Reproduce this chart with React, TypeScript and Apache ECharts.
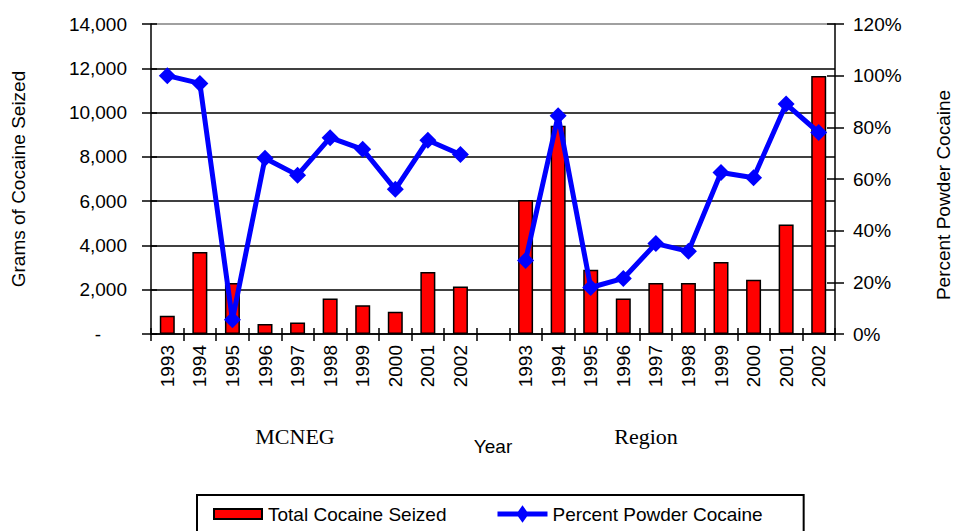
import React, { useEffect, useRef } from "react";
import * as echarts from "echarts";

const categories = [
  "1993", "1994", "1995", "1996", "1997", "1998", "1999", "2000", "2001", "2002",
  "",
  "1993", "1994", "1995", "1996", "1997", "1998", "1999", "2000", "2001", "2002",
];

const totalSeized = [
  820, 3700, 2300, 450, 520, 1600, 1300, 1000, 2800, 2150,
  null,
  6050, 9400, 2900, 1600, 2300, 2300, 3250, 2450, 4950, 11650,
];

const percentPowder = [
  100, 97, 5.5, 68, 61.5, 76, 71.5, 56, 75, 69.5,
  null,
  28.5, 84.5, 18, 21.5, 35, 32, 62.5, 60.5, 89, 78,
];

const leftTicks = { min: 0, max: 14000, interval: 2000 };
const rightTicks = { min: 0, max: 120, interval: 20 };

const groupLabels = [
  { text: "MCNEG", x: 295 },
  { text: "Region", x: 646 },
];

const SANS = "Arial, 'Liberation Sans', sans-serif";
const SERIF = "'Times New Roman', 'Liberation Serif', serif";

const BAR_ICON = "path://M0 0 M50 18 M1 4 L49 4 L49 14 L1 14 Z";
const LINE_ICON =
  "path://M0 0 M52 18 M0 6.5 L52 6.5 L52 11.5 L0 11.5 Z M26 0 L32.5 9 L26 18 L19.5 9 Z";

export default function App() {
  const ref = useRef<HTMLDivElement>(null);

  useEffect(() => {
    if (!ref.current) return;
    const chart = echarts.init(ref.current, null, { renderer: "svg" });

    const splitCount = leftTicks.max / leftTicks.interval + 1;
    const lineColors: string[] = [];
    for (let i = 0; i < splitCount; i++) lineColors.push(i === splitCount - 1 ? "#808080" : "#000000");

    chart.setOption({
      animation: false,
      backgroundColor: "#ffffff",
      textStyle: { fontFamily: SANS },
      grid: {
        left: 151,
        right: 118,
        top: 24,
        bottom: 197,
        containLabel: false,
        outerBoundsMode: "none",
      },
      legend: {
        left: 197,
        top: 495,
        orient: "horizontal",
        itemWidth: 50,
        itemHeight: 18,
        itemGap: 51,
        padding: [9, 41, 20, 15],
        borderColor: "#000000",
        borderWidth: 2,
        textStyle: { fontFamily: SANS, fontSize: 19, color: "#000000" },
        data: [
          { name: "Total Cocaine Seized", icon: BAR_ICON },
          { name: "Percent Powder Cocaine", icon: LINE_ICON },
        ],
      },
      xAxis: [
        {
          type: "category",
          data: categories,
          position: "bottom",
          boundaryGap: true,
          axisLine: { lineStyle: { color: "#000000", width: 1.5 } },
          axisTick: { show: true, length: 7, interval: 0, lineStyle: { color: "#000000", width: 1.5 } },
          axisLabel: {
            interval: 0,
            rotate: 90,
            margin: 11,
            fontFamily: SANS,
            fontSize: 19,
            color: "#000000",
          },
          name: "Year",
          nameLocation: "middle",
          nameGap: 103,
          nameTextStyle: { fontFamily: SANS, fontSize: 19, color: "#000000", verticalAlign: "top" },
        },
        {
          type: "category",
          data: categories,
          position: "bottom",
          boundaryGap: true,
          axisLine: { show: false },
          axisTick: { show: true, inside: true, length: 6, interval: 0, lineStyle: { color: "#000000", width: 1.5 } },
          axisLabel: { show: false },
        },
      ],
      yAxis: [
        {
          type: "value",
          position: "left",
          ...leftTicks,
          axisLine: { show: true, lineStyle: { color: "#000000", width: 1.5 } },
          axisTick: { show: true, length: 9, lineStyle: { color: "#000000", width: 1.5 } },
          splitLine: { show: true, lineStyle: { color: lineColors, width: 1.5 } },
          axisLabel: {
            margin: 24,
            fontFamily: SANS,
            fontSize: 19,
            color: "#000000",
            formatter: (v: number) => (v === 0 ? "{d|-}" : v.toLocaleString("en-US")),
            rich: { d: { fontFamily: SANS, fontSize: 19, color: "#000000", padding: [0, 26, 0, 0] } },
          },
          name: "Grams of Cocaine Seized",
          nameLocation: "middle",
          nameGap: 123,
          nameRotate: 90,
          nameTextStyle: { fontFamily: SANS, fontSize: 19, color: "#000000" },
        },
        {
          type: "value",
          position: "right",
          ...rightTicks,
          axisLine: { show: true, lineStyle: { color: "#000000", width: 1.5 } },
          axisTick: { show: true, length: 9, lineStyle: { color: "#000000", width: 1.5 } },
          splitLine: { show: false },
          axisLabel: {
            margin: 18,
            fontFamily: SANS,
            fontSize: 19,
            color: "#000000",
            formatter: (v: number) => v + "%",
          },
          name: "Percent Powder Cocaine",
          nameLocation: "middle",
          nameGap: 99,
          nameRotate: 90,
          nameTextStyle: { fontFamily: SANS, fontSize: 19, color: "#000000", padding: [0, 32, 0, 0] },
        },
        {
          type: "value",
          position: "left",
          ...leftTicks,
          axisLine: { show: false },
          axisTick: { show: true, inside: true, length: 6, lineStyle: { color: "#000000", width: 1.5 } },
          splitLine: { show: false },
          axisLabel: { show: false },
        },
        {
          type: "value",
          position: "right",
          ...rightTicks,
          axisLine: { show: false },
          axisTick: { show: true, inside: true, length: 8, lineStyle: { color: "#000000", width: 1.5 } },
          splitLine: { show: false },
          axisLabel: { show: false },
        },
      ],
      graphic: groupLabels.map((g) => ({
        type: "text",
        x: g.x,
        y: 436,
        style: {
          text: g.text,
          fontFamily: SERIF,
          fontSize: 22,
          fill: "#000000",
          align: "center",
          verticalAlign: "middle",
        },
      })),
      series: [
        {
          name: "Total Cocaine Seized",
          type: "bar",
          xAxisIndex: 0,
          yAxisIndex: 0,
          data: totalSeized,
          barWidth: 15,
          itemStyle: { color: "#ff0000", borderColor: "#000000", borderWidth: 1.5 },
        },
        {
          name: "Percent Powder Cocaine",
          type: "line",
          xAxisIndex: 0,
          yAxisIndex: 1,
          data: percentPowder,
          connectNulls: false,
          symbol: "diamond",
          symbolSize: 17,
          lineStyle: { color: "#0000ff", width: 5 },
          itemStyle: { color: "#0000ff" },
        },
      ],
    });

    return () => chart.dispose();
  }, []);

  return <div ref={ref} style={{ width: 953, height: 531, position: "absolute", left: 0, top: 0 }} />;
}
